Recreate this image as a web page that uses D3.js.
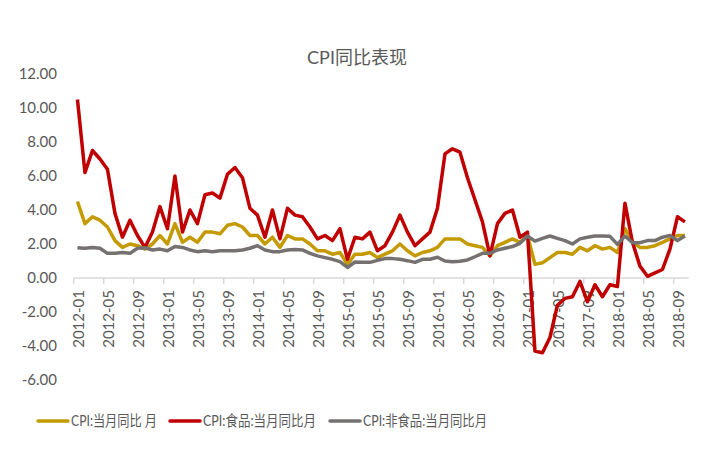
<!DOCTYPE html>
<html>
<head>
<meta charset="utf-8">
<script src="https://cdn.jsdelivr.net/npm/d3@7"></script>
<style>
  body { margin: 0; background: #fff; }
  svg text { font-family: Lato, "Noto Sans CJK SC", sans-serif; fill: #595959; }
</style>
</head>
<body>
<svg id="chart" width="711" height="450"></svg>
<script>
// monthly categories 2012-01 .. 2018-10
const months = d3.timeMonths(new Date(2012, 0, 1), new Date(2018, 10, 1)).map(d3.timeFormat('%Y-%m'));

const cpi = [
  4.5, 3.2, 3.6, 3.4, 3.0, 2.2, 1.8, 2.0, 1.9, 1.7, 2.0, 2.5,
  2.0, 3.2, 2.1, 2.4, 2.1, 2.7, 2.7, 2.6, 3.1, 3.2, 3.0, 2.5,
  2.5, 2.0, 2.4, 1.8, 2.5, 2.3, 2.3, 2.0, 1.6, 1.6, 1.4, 1.5,
  0.8, 1.4, 1.4, 1.5, 1.2, 1.4, 1.6, 2.0, 1.6, 1.3, 1.5, 1.6,
  1.8, 2.3, 2.3, 2.3, 2.0, 1.9, 1.8, 1.3, 1.9, 2.1, 2.3, 2.1,
  2.5, 0.8, 0.9, 1.2, 1.5, 1.5, 1.4, 1.8, 1.6, 1.9, 1.7, 1.8,
  1.5, 2.9, 2.1, 1.8, 1.8, 1.9, 2.1, 2.3, 2.5, 2.5
];

const food = [
  10.5, 6.2, 7.5, 7.0, 6.4, 3.8, 2.4, 3.4, 2.5, 1.8, 2.7, 4.2,
  2.9, 6.0, 2.7, 4.0, 3.2, 4.9, 5.0, 4.7, 6.1, 6.5, 5.9, 4.1,
  3.7, 2.4, 4.0, 2.3, 4.1, 3.7, 3.6, 3.0, 2.3, 2.5, 2.2, 2.9,
  1.1, 2.4, 2.3, 2.7, 1.6, 1.9, 2.7, 3.7, 2.7, 1.9, 2.3, 2.7,
  4.1, 7.3, 7.6, 7.4, 5.9, 4.6, 3.3, 1.3, 3.2, 3.8, 4.0, 2.4,
  2.7, -4.3, -4.4, -3.5, -1.6, -1.2, -1.1, -0.2, -1.4, -0.4, -1.1, -0.4,
  -0.5, 4.4, 2.1, 0.7, 0.1, 0.3, 0.5, 1.7, 3.6, 3.3
];

const nonFood = [
  1.78, 1.75, 1.8, 1.75, 1.45, 1.45, 1.5, 1.45, 1.75, 1.78, 1.65, 1.7,
  1.6, 1.85, 1.8, 1.65, 1.55, 1.6, 1.55, 1.6, 1.6, 1.6, 1.65, 1.75,
  1.9, 1.65, 1.55, 1.55, 1.65, 1.68, 1.65, 1.45, 1.3, 1.2, 1.1, 0.96,
  0.62, 0.94, 0.92, 0.92, 1.04, 1.14, 1.14, 1.1, 1.02, 0.92, 1.1, 1.1,
  1.22, 1.0, 0.96, 0.98, 1.06, 1.25, 1.45, 1.45, 1.65, 1.75, 1.85, 2.04,
  2.47, 2.17, 2.33, 2.47, 2.33, 2.2, 2.0, 2.3, 2.4, 2.47, 2.47, 2.45,
  1.98, 2.47, 2.08, 2.08, 2.2, 2.2, 2.4, 2.5, 2.2, 2.47
];

const yTicks = [-6, -4, -2, 0, 2, 4, 6, 8, 10, 12];

const series = [
  { name: 'CPI:当月同比 月', values: cpi, color: '#C49A00' },
  { name: 'CPI:食品:当月同比月', values: food, color: '#C00000' },
  { name: 'CPI:非食品:当月同比月', values: nonFood, color: '#767171' }
];

const svg = d3.select('#chart');

const x = d3.scaleBand().domain(months).range([73.7, 688.7]).padding(0);
const y = d3.scaleLinear().domain([-6, 12]).range([380, 74]);
const cx = d => x(d) + x.bandwidth() / 2;

// title
svg.append('text').attr('x', 357).attr('y', 64).attr('text-anchor', 'middle')
  .attr('font-size', 18).text('CPI同比表现');

// y labels
svg.append('g').selectAll('text').data(yTicks).join('text')
  .attr('x', 57).attr('y', d => y(d)).attr('dy', '0.35em')
  .attr('text-anchor', 'end').attr('font-size', 15)
  .text(d => d.toFixed(2));

// x axis line + ticks at category boundaries
const axisG = svg.append('g');
axisG.append('line')
  .attr('x1', x.range()[0]).attr('x2', x.range()[1])
  .attr('y1', y(0)).attr('y2', y(0))
  .attr('stroke', '#D9D9D9').attr('stroke-width', 1.5);

const labelMonths = months.filter((m, i) => i % 4 === 0);
axisG.selectAll('.tick').data(labelMonths).join('line')
  .attr('class', 'tick')
  .attr('x1', d => x(d)).attr('x2', d => x(d))
  .attr('y1', y(0)).attr('y2', y(0) + 6)
  .attr('stroke', '#D9D9D9').attr('stroke-width', 1.5);

axisG.selectAll('.xl').data(labelMonths).join('text')
  .attr('class', 'xl')
  .attr('transform', d => `translate(${cx(d) + 1},${y(0) + 12}) rotate(-90)`)
  .attr('text-anchor', 'end').attr('dy', '0.35em').attr('font-size', 15)
  .text(d => d);

// lines
const line = d3.line().x((v, i) => cx(months[i])).y(v => y(v));

svg.append('g').selectAll('path').data(series).join('path')
  .attr('d', s => line(s.values))
  .attr('fill', 'none')
  .attr('stroke', s => s.color)
  .attr('stroke-width', 3.5)
  .attr('stroke-linejoin', 'round');

// legend (condensed text like the original)
const legendX = [38, 170, 330];
const legendW = [86, 113, 124];
const legend = svg.append('g').selectAll('g').data(series).join('g')
  .attr('transform', (s, i) => `translate(${legendX[i]},421)`);

legend.append('line')
  .attr('x1', 0).attr('x2', 30).attr('y1', 0).attr('y2', 0)
  .attr('stroke', s => s.color).attr('stroke-width', 3.5).attr('stroke-linecap', 'round');

legend.append('text')
  .attr('x', 33).attr('dy', '0.35em').attr('font-size', 15)
  .attr('textLength', (s, i) => legendW[i]).attr('lengthAdjust', 'spacingAndGlyphs')
  .text(s => s.name);
</script>
</body>
</html>
